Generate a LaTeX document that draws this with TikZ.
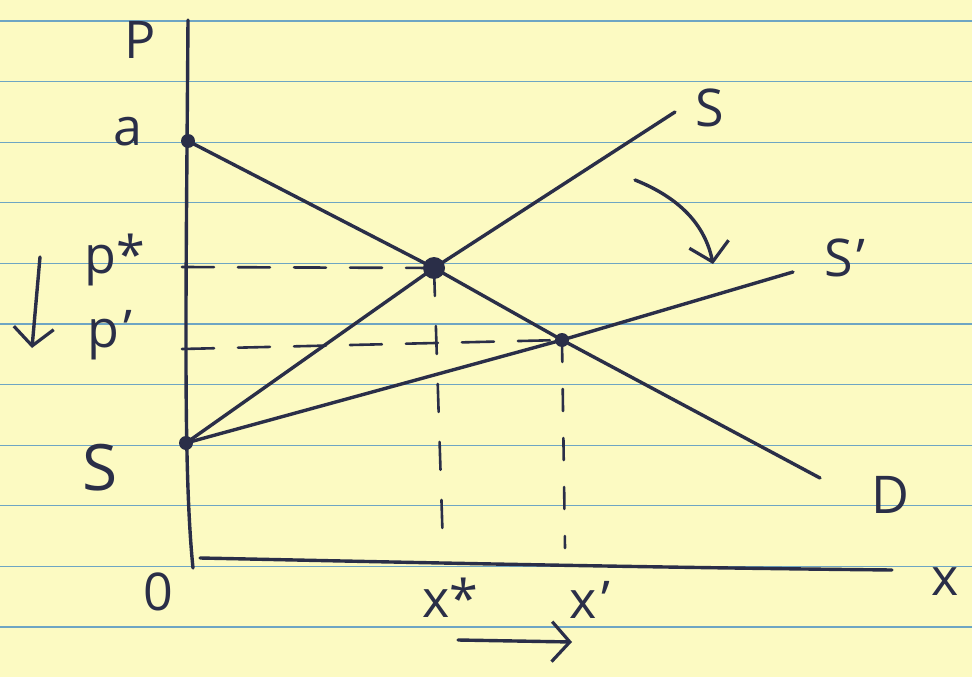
\documentclass[tikz,border=0pt]{standalone}
\usepackage{fontspec}
\setmainfont{Open Sans}
\usetikzlibrary{arrows.meta}
\definecolor{paper}{RGB}{252,250,194}
\definecolor{rulecol}{RGB}{110,165,195}
\definecolor{ink}{RGB}{42,46,72}
\newcommand{\hprime}{\hspace{0.08em}\symbol{39}}
\begin{document}
\begin{tikzpicture}[x=1pt,y=-1pt,
  pen/.style={draw=ink,line width=3.4pt,line cap=round,line join=round},
  dashpen/.style={draw=ink,line width=2.6pt,line cap=round,dash pattern=on 32pt off 24pt},
  lbl/.style={text=ink,font=\fontsize{52}{56}\selectfont,inner sep=0pt},
  dotpt/.style={circle,fill=ink,inner sep=0pt,minimum size=14pt},
  bigdot/.style={circle,fill=ink,inner sep=0pt,minimum size=22pt},
  barb/.style={-{Straight Barb[length=18pt,width=40pt,line width=3.2pt]}}]
\fill[paper] (0,0) rectangle (972,677);
\useasboundingbox (0,0) rectangle (972,677);
% ruled lines
\foreach \k in {0,...,10}
  \draw[rulecol,line width=1.3pt] (0,{21+60.6*\k}) -- (972,{21+60.6*\k});
% axes
\coordinate (ytop) at (188,20);
\coordinate (ybot) at (193,568);
\coordinate (xleft) at (200,558);
\coordinate (xright) at (892,570);
\draw[pen] (ytop) .. controls (186,300) and (183,470) .. (ybot);
\draw[pen] (xleft) .. controls (300,560) and (600,567) .. (xright);
% points
\node[dotpt] (A) at (188,141) {};
\node[dotpt] (Sp) at (186,443) {};
\node[bigdot] (E) at (434,268) {};
\node[dotpt] (F) at (562,340) {};
\coordinate (Send) at (675,112);
\coordinate (S2end) at (793,272);
\coordinate (Dend) at (820,478);
% dashed guides
\coordinate (pstar) at (182,267);
\coordinate (pprime) at (182,349);
\coordinate (xstar) at (443,548);
\coordinate (xprime) at (565,548);
\draw[dashpen] (pstar) -- (E.center);
\draw[dashpen] (pprime) -- (F.center);
\draw[dashpen,dash pattern=on 28pt off 30pt] (E.center) -- (xstar);
\draw[dashpen,dash pattern=on 22pt off 27pt] (F.center) -- (xprime);
% curves
\draw[pen] (A.center) -- (E.center) -- (F.center) -- (Dend);
\draw[pen] (Sp.center) -- (E.center) -- (Send);
\draw[pen] (Sp.center) -- (F.center) -- (S2end);
% labels
\node[lbl] (lP) at (140,40) {P};
\node[lbl] (la) at (128,132) {a};
\node[lbl] (lps) at (115,260) {p*};
\node[lbl] (lpp) at (110,335) {p\hprime};
\node[lbl,font=\fontsize{64}{68}\selectfont] (lS0) at (100,468) {S};
\node[lbl] (l0) at (158,592) {0};
\node[lbl] (lxs) at (450,598) {x*};
\node[lbl] (lxp) at (590,600) {x\hprime};
\node[lbl] (lS) at (710,108) {S};
\node[lbl] (lS2) at (845,258) {S\hprime};
\node[lbl] (lD) at (890,495) {D};
\node[lbl] (lx) at (945,582) {x};
% arrows
\coordinate (dA1) at (40,257);
\coordinate (dA2) at (32,348);
\draw[pen,barb] (dA1) -- (dA2);
\coordinate (cA1) at (635,180);
\coordinate (cA2) at (713,264);
\draw[pen,barb] (cA1) .. controls (680,198) and (705,225) .. (cA2);
\coordinate (rA1) at (458,640);
\coordinate (rA2) at (572,642);
\draw[pen,barb] (rA1) -- (rA2);
\end{tikzpicture}
\end{document}
